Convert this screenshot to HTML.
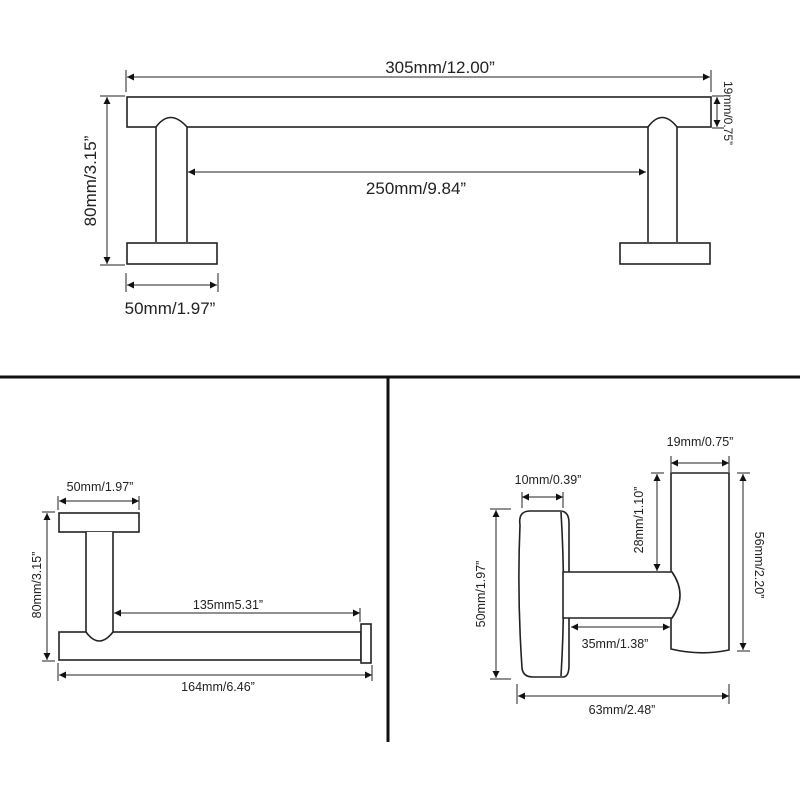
<!DOCTYPE html>
<html><head><meta charset="utf-8"><style>html,body{margin:0;padding:0;background:#fff}svg{display:block}</style></head>
<body>
<svg width="800" height="800" viewBox="0 0 800 800" xmlns="http://www.w3.org/2000/svg" font-family="Liberation Sans, Arial, sans-serif" fill="none" stroke="#222">
<defs>
<marker id="a" viewBox="0 0 10 10" refX="10" refY="5" markerWidth="10" markerHeight="7" orient="auto-start-reverse" markerUnits="userSpaceOnUse"><path d="M0,0 L10,5 L0,10 z" fill="#111" stroke="none"/></marker>
</defs>
<g stroke-width="1.6">
<!-- top towel bar -->
<rect x="127" y="97" width="584" height="30"/>
<path d="M156,242 V127 Q170,108 187,127 V242" fill="#fff"/>
<path d="M648,242 V127 Q662,108 677,127 V242" fill="#fff"/>
<rect x="127" y="243" width="90" height="21"/>
<rect x="620" y="243" width="90" height="21"/>
</g>
<g stroke-width="1">
<line x1="127" y1="77" x2="710" y2="77" marker-start="url(#a)" marker-end="url(#a)"/>
<line x1="126" y1="70" x2="126" y2="92"/><line x1="711" y1="70" x2="711" y2="92"/>
<line x1="188" y1="172" x2="646" y2="172" marker-start="url(#a)" marker-end="url(#a)"/>
<line x1="107" y1="97" x2="107" y2="264" marker-start="url(#a)" marker-end="url(#a)"/>
<line x1="100" y1="96" x2="125" y2="96"/><line x1="100" y1="265" x2="125" y2="265"/>
<line x1="127" y1="285" x2="217" y2="285" marker-start="url(#a)" marker-end="url(#a)"/>
<line x1="126" y1="273" x2="126" y2="292"/><line x1="218" y1="273" x2="218" y2="292"/>
<line x1="717" y1="97" x2="717" y2="127" marker-start="url(#a)" marker-end="url(#a)"/>
<line x1="712" y1="96" x2="724" y2="96"/><line x1="712" y1="128" x2="724" y2="128"/>
</g>
<g fill="#222" stroke="none" font-size="17">
<text x="440" y="73" text-anchor="middle">305mm/12.00”</text>
<text x="416" y="194" text-anchor="middle">250mm/9.84”</text>
<text x="170" y="314" text-anchor="middle">50mm/1.97”</text>
<text transform="translate(96,181) rotate(-90)" text-anchor="middle">80mm/3.15”</text>
<text transform="translate(724,113) rotate(90)" text-anchor="middle" font-size="12">19mm/0.75”</text>
</g>
<!-- dividers -->
<line x1="0" y1="377" x2="800" y2="377" stroke="#111" stroke-width="3"/>
<line x1="388" y1="377" x2="388" y2="742" stroke="#111" stroke-width="3"/>
<!-- bottom left -->
<g stroke-width="1.6">
<rect x="59" y="513" width="80" height="19"/>
<rect x="59" y="632" width="302" height="28"/>
<path d="M86,532 V632 Q99,650 113,632 V532" fill="#fff"/>
<rect x="361" y="624" width="10" height="39" fill="#fff"/>
</g>
<g stroke-width="1">
<line x1="59" y1="501" x2="139" y2="501" marker-start="url(#a)" marker-end="url(#a)"/>
<line x1="58" y1="496" x2="58" y2="510"/><line x1="139" y1="496" x2="139" y2="510"/>
<line x1="47" y1="513" x2="47" y2="660" marker-start="url(#a)" marker-end="url(#a)"/>
<line x1="42" y1="512" x2="55" y2="512"/><line x1="42" y1="661" x2="55" y2="661"/>
<line x1="114" y1="613" x2="360" y2="613" marker-start="url(#a)" marker-end="url(#a)"/>
<line x1="360" y1="608" x2="360" y2="622"/>
<line x1="59" y1="675" x2="372" y2="675" marker-start="url(#a)" marker-end="url(#a)"/>
<line x1="58" y1="663" x2="58" y2="681"/><line x1="372" y1="665" x2="372" y2="681"/>
</g>
<g fill="#222" stroke="none" font-size="12.5">
<text x="100" y="491" text-anchor="middle">50mm/1.97”</text>
<text x="228" y="609" text-anchor="middle">135mm5.31”</text>
<text x="218" y="691" text-anchor="middle">164mm/6.46”</text>
<text transform="translate(41,585) rotate(-90)" text-anchor="middle">80mm/3.15”</text>
</g>
<!-- bottom right -->
<g stroke-width="1.6">
<path d="M530,511 Q518,511 520,525 Q517,594 522,668 Q523,677 533,677 L563,677 Q569,677 569,665 L569,523 Q569,511 560,511 Z"/>
<path d="M561,512 Q566,594 561,676"/>
<path d="M671,473 H729 V650 Q700,656 671,649 Z"/>
<path d="M563,572 H672 Q688,595 672,618 H563 Z" fill="#fff"/>
</g>
<g stroke-width="1">
<line x1="671" y1="463" x2="729" y2="463" marker-start="url(#a)" marker-end="url(#a)"/>
<line x1="671" y1="456" x2="671" y2="472"/><line x1="729" y1="456" x2="729" y2="472"/>
<line x1="522" y1="497" x2="563" y2="497" marker-start="url(#a)" marker-end="url(#a)"/>
<line x1="522" y1="492" x2="522" y2="508"/><line x1="563" y1="492" x2="563" y2="508"/>
<line x1="496" y1="510" x2="496" y2="678" marker-start="url(#a)" marker-end="url(#a)"/>
<line x1="490" y1="509" x2="511" y2="509"/><line x1="490" y1="679" x2="511" y2="679"/>
<line x1="657" y1="474" x2="657" y2="571" marker-start="url(#a)" marker-end="url(#a)"/>
<line x1="651" y1="473" x2="664" y2="473"/>
<line x1="743" y1="474" x2="743" y2="650" marker-start="url(#a)" marker-end="url(#a)"/>
<line x1="737" y1="473" x2="750" y2="473"/><line x1="737" y1="651" x2="750" y2="651"/>
<line x1="571" y1="627" x2="670" y2="627" marker-start="url(#a)" marker-end="url(#a)"/>
<line x1="518" y1="696" x2="729" y2="696" marker-start="url(#a)" marker-end="url(#a)"/>
<line x1="517" y1="684" x2="517" y2="704"/><line x1="729" y1="684" x2="729" y2="704"/>
</g>
<g fill="#222" stroke="none" font-size="12.5">
<text x="700" y="446" text-anchor="middle">19mm/0.75”</text>
<text x="548" y="484" text-anchor="middle">10mm/0.39”</text>
<text x="615" y="648" text-anchor="middle">35mm/1.38”</text>
<text x="622" y="714" text-anchor="middle">63mm/2.48”</text>
<text transform="translate(485,594) rotate(-90)" text-anchor="middle">50mm/1.97”</text>
<text transform="translate(643,520) rotate(-90)" text-anchor="middle">28mm/1.10”</text>
<text transform="translate(755,565) rotate(90)" text-anchor="middle">56mm/2.20”</text>
</g>
</svg>
</body></html>
